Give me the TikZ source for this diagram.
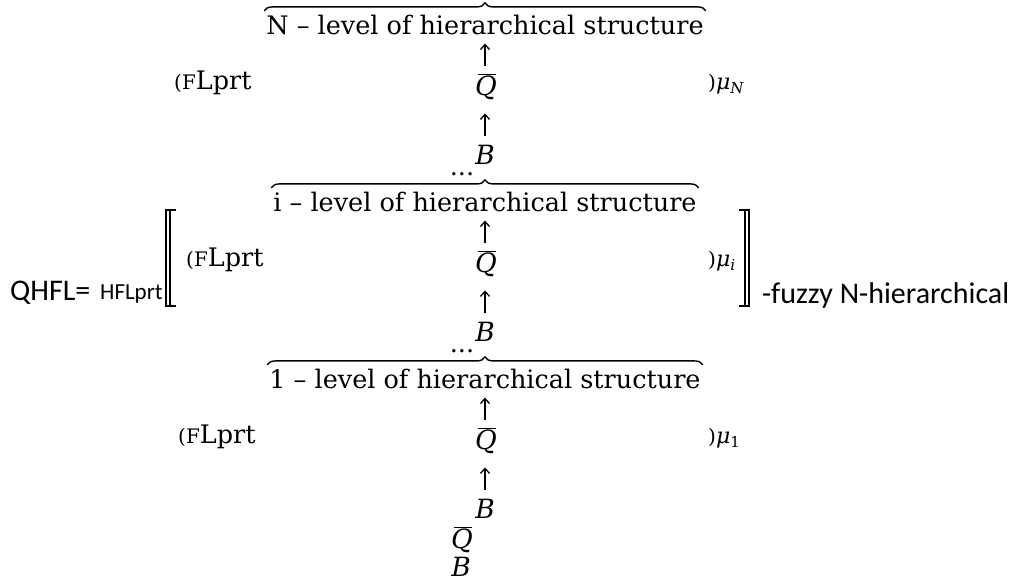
\documentclass[tikz,border=0pt]{standalone}
\usepackage{fix-cm}
\usepackage{fontspec}
\setmainfont{DejaVu Serif}
\setsansfont{Carlito}
\usetikzlibrary{arrows.meta,decorations.pathreplacing,positioning}
\newcommand{\mainsz}{\fontsize{25.5}{28}\selectfont}
\newcommand{\lesssz}{\fontsize{20}{22}\selectfont}
\newcommand{\flprt}{{\lesssz(F}Lprt}
\newcommand{\qbar}{$\overline{\kern-3pt\hbox{\itshape Q}\kern-1pt}$}
\newcommand{\musub}[1]{{\lesssz)}\textit{μ}\raisebox{-4pt}{\fontsize{15}{17}\selectfont #1}}
\tikzset{
  lvltitle/.style={inner sep=0pt, anchor=base, font=\mainsz},
  term/.style={inner sep=0pt, anchor=base, font=\fontsize{26.5}{29}\selectfont\itshape},
  lprtlabel/.style={inner sep=0pt, anchor=base west, font=\mainsz},
  mulabel/.style={inner sep=0pt, anchor=base west, font=\fontsize{22}{24}\selectfont},
  sidetext/.style={inner sep=0pt, anchor=base west, font=\sffamily\fontsize{30}{33}\selectfont},
  upflow/.style={-{Straight Barb[length=5pt,width=9pt]}, line width=1.3pt},
  lvlbrace/.style={decorate, decoration={brace, amplitude=8pt}, line width=1.4pt},
  dbracket/.style={line width=1.2pt}
}

\begin{document}
\begin{tikzpicture}[x=1pt,y=-1pt]
  \useasboundingbox (0,0) rectangle (1029,581);
  % N-th level
  \node[lvltitle] (titleN) at (485,34) {N – level of hierarchical structure};
  \node[term] (qN) at (487,95) {\qbar};
  \node[term] (bN) at (485,164) {B};
  \node[lvltitle] (dotsN) at (462,175) {...};
  \node[lprtlabel] (flN) at (174,89) {\flprt};
  \node[mulabel] (muN) at (708,89) {\musub{\itshape N}};
  \draw[lvlbrace] ([shift={(-2pt,3.5pt)}]titleN.north west) -- ([shift={(2pt,3.5pt)}]titleN.north east);
  \draw[upflow] ([yshift=7pt]qN.north -| bN.north) -- ([yshift=-9pt]titleN.south);
  \draw[upflow] ([yshift=8pt]bN.north) -- ([yshift=-14pt]qN.south -| bN.north);
  % i-th level
  \node[lvltitle] (titlei) at (485,211) {i – level of hierarchical structure};
  \node[term] (qi) at (487,272) {\qbar};
  \node[term] (bi) at (485,341) {B};
  \node[lvltitle] (dotsi) at (462,352) {...};
  \node[lprtlabel] (fli) at (186,266) {\flprt};
  \node[mulabel] (mui) at (708,266) {\musub{\itshape i}};
  \draw[lvlbrace] ([shift={(-2pt,3.5pt)}]titlei.north west) -- ([shift={(2pt,3.5pt)}]titlei.north east);
  \draw[upflow] ([yshift=7pt]qi.north -| bi.north) -- ([yshift=-9pt]titlei.south);
  \draw[upflow] ([yshift=8pt]bi.north) -- ([yshift=-14pt]qi.south -| bi.north);
  % 1-st level
  \node[lvltitle] (title1) at (485,388) {1 – level of hierarchical structure};
  \node[term] (q1) at (487,449) {\qbar};
  \node[term] (b1) at (485,518) {B};
  \node[lprtlabel] (fl1) at (178,443) {\flprt};
  \node[mulabel] (mu1) at (708,443) {\musub{1}};
  \draw[lvlbrace] ([shift={(-2pt,3.5pt)}]title1.north west) -- ([shift={(2pt,3.5pt)}]title1.north east);
  \draw[upflow] ([yshift=7pt]q1.north -| b1.north) -- ([yshift=-9pt]title1.south);
  \draw[upflow] ([yshift=8pt]b1.north) -- ([yshift=-14pt]q1.south -| b1.north);
  \node[term] (q0) at (463,548) {\qbar};
  \node[term] (b0) at (461,576) {B};
  % double brackets
  \draw[dbracket] (176,210) -- (166,210) -- (166,306) -- (176,306);
  \draw[dbracket] (170,210) -- (170,306);
  \draw[dbracket] (739,210) -- (749,210) -- (749,306) -- (739,306);
  \draw[dbracket] (745,210) -- (745,306);
  % side texts
  \node[sidetext] (qhfl) at (10,300) {QHFL=};
  \node[sidetext, font=\sffamily\fontsize{23}{25}\selectfont] (hflprt) at (100,299) {HFLprt};
  \node[sidetext] (fuzzy) at (762,303) {-fuzzy N-hierarchical};
\end{tikzpicture}
\end{document}
